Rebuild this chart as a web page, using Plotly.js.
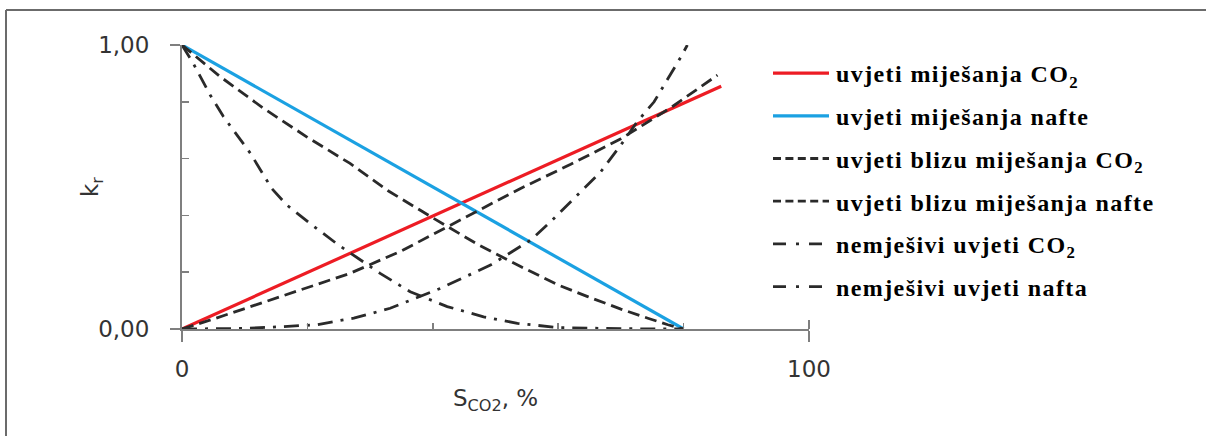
<!DOCTYPE html>
<html>
<head>
<meta charset="utf-8">
<script src="https://cdn.plot.ly/plotly-3.0.1.min.js"></script>
<style>
html,body{margin:0;padding:0;background:#fff;}
#chart{width:1206px;height:436px;}
.legendtext{letter-spacing:1.4px;}
</style>
</head>
<body>
<div id="chart"></div>
<script>
// ---- data ----
const seriesNames = [
  'uvjeti miješanja CO<sub>2</sub>',
  'uvjeti miješanja nafte',
  'uvjeti blizu miješanja CO<sub>2</sub>',
  'uvjeti blizu miješanja nafte',
  'nemješivi uvjeti CO<sub>2</sub>',
  'nemješivi uvjeti nafta'
];

const xMisCO2 = [0, 86];
const yMisCO2 = [0, 0.855];

const xMisOil = [0, 80];
const yMisOil = [1, 0];

const xNearCO2 = [0, 5, 13, 20, 26.8, 35, 42.3, 50, 54, 62, 70, 78, 85.4];
const yNearCO2 = [0, 0.035, 0.094, 0.145, 0.196, 0.275, 0.36, 0.45, 0.495, 0.58, 0.67, 0.78, 0.894];

const xNearOil = [0, 6, 13, 20, 26.8, 33, 40.1, 47, 54, 60, 64.7, 70, 74.3, 77.5, 80];
const yNearOil = [1, 0.89, 0.777, 0.675, 0.583, 0.485, 0.39, 0.3, 0.22, 0.155, 0.114, 0.07, 0.038, 0.015, 0];

const xImmCO2 = [0, 10, 15.7, 21.5, 25.2, 27.4, 33.2, 41.2, 49.2, 55.6, 58.8, 63.1, 66.8, 70, 72.6, 75.3, 77.4, 79.6, 80.6];
const yImmCO2 = [0, 0.002, 0.008, 0.015, 0.03, 0.038, 0.073, 0.143, 0.225, 0.313, 0.378, 0.472, 0.554, 0.648, 0.73, 0.8, 0.877, 0.959, 1.0];

const xImmOil = [0, 1.8, 4.5, 6.6, 10.9, 14.3, 16.7, 20.4, 24.7, 31.6, 36.4, 42.3, 48.1, 53.5, 60, 70, 80];
const yImmOil = [1, 0.935, 0.824, 0.748, 0.619, 0.495, 0.437, 0.372, 0.30, 0.196, 0.131, 0.079, 0.043, 0.02, 0.005, 0.001, 0];

const xTickVals = [0, 100];
const xTickText = ['0', '100'];
const xMinorTicks = [20, 40, 60, 80];
const yTickVals = [0, 1];
const yTickText = ['0,00', '1,00'];
const yMinorTicks = [0.2, 0.4, 0.6, 0.8];

const xTitle = 'S<sub>CO2</sub>, %';
const yTitle = 'k<sub>r</sub>';

// ---- styling ----
const RED = '#ed1c24';
const BLUE = '#1ba1e2';
const DARK = '#2a2a2a';
const AXIS = '#7f7f7f';
const dashed = '12px,6px';
const dashdot = '15px,8px,3px,8px';
const legendDash = ['', '', '8px,4.4px', '8px,4.4px', '13px,10px,3px,10px', '13px,10px,3px,10px'];
const TICKFONT = {family: 'DejaVu Sans', size: 23, color: '#333'};

function tr(x, y, name, color, width, dash, g) {
  return {
    x: x, y: y, name: name, type: 'scatter', mode: 'lines',
    line: {color: color, width: width, dash: dash},
    legendgroup: g, hoverinfo: 'skip'
  };
}

const data = [
  tr(xMisCO2, yMisCO2, seriesNames[0], RED, 3.2, 'solid', 'g1'),
  tr(xMisOil, yMisOil, seriesNames[1], BLUE, 3.2, 'solid', 'g2'),
  tr(xNearCO2, yNearCO2, seriesNames[2], DARK, 2.8, dashed, 'g3'),
  tr(xNearOil, yNearOil, seriesNames[3], DARK, 2.8, dashed, 'g4'),
  tr(xImmCO2, yImmCO2, seriesNames[4], DARK, 2.8, dashdot, 'g5'),
  tr(xImmOil, yImmOil, seriesNames[5], DARK, 2.8, dashdot, 'g6')
];

const W = 627, H = 284; // plot area size in px
const px = v => v / W, py = v => v / H;

const lineShape = (x0, y0, x1, y1, color, w) => ({
  type: 'line', xref: 'paper', yref: 'paper', x0: x0, y0: y0, x1: x1, y1: y1,
  line: {color: color, width: w}, layer: 'above'
});

const layout = {
  width: 1206, height: 436,
  margin: {l: 182, r: 397, t: 45, b: 107},
  paper_bgcolor: '#ffffff', plot_bgcolor: '#ffffff',
  showlegend: true,
  legend: {
    x: px(586), y: py(278), xanchor: 'left', yanchor: 'top',
    bgcolor: 'rgba(0,0,0,0)',
    traceorder: 'grouped', tracegroupgap: 8.5,
    font: {family: 'Liberation Serif', size: 24, color: '#000', weight: 'bold'},
    itemwidth: 58
  },
  xaxis: {
    range: [0, 100], fixedrange: true,
    showgrid: false, zeroline: false,
    showline: true, linecolor: AXIS, linewidth: 2,
    ticks: 'outside', ticklen: 11, tickwidth: 2, tickcolor: AXIS,
    tickmode: 'array', tickvals: xTickVals, ticktext: xTickText,
    minor: {tickmode: 'array', tickvals: xMinorTicks, ticks: 'inside', ticklen: 6, tickwidth: 1.5, tickcolor: AXIS},
    ticklabelstandoff: 7,
    tickfont: TICKFONT,
    title: {text: xTitle, standoff: 9, font: TICKFONT}
  },
  yaxis: {
    range: [0, 1], fixedrange: true,
    showgrid: false, zeroline: false,
    showline: true, linecolor: AXIS, linewidth: 2,
    ticks: 'outside', ticklen: 10, tickwidth: 1.5, tickcolor: AXIS,
    tickmode: 'array', tickvals: yTickVals, ticktext: yTickText,
    minor: {tickmode: 'array', tickvals: yMinorTicks, ticks: 'inside', ticklen: 7, tickwidth: 1.5, tickcolor: AXIS},
    ticklabelstandoff: 16,
    tickfont: TICKFONT
  },
  annotations: [{
    text: yTitle, xref: 'paper', yref: 'paper', x: px(-90), y: 0.5,
    xanchor: 'center', yanchor: 'middle', textangle: -90, showarrow: false,
    font: TICKFONT
  }],
  shapes: [
    // outer frame (top and left edges visible)
    lineShape(px(-176), py(319), px(1100), py(319), '#6b6b6b', 2),
    lineShape(px(-176), py(-140), px(-176), py(319), '#6b6b6b', 2),
    // upper half of the tick at 100
    lineShape(1, 0, 1, py(9), AXIS, 2)
  ]
};

Plotly.newPlot('chart', data, layout, {displayModeBar: false, staticPlot: true}).then(function (gd) {
  // longer legend samples, as in the reference
  gd.querySelectorAll('.legend .legendlines path').forEach(function (p, i) {
    p.setAttribute('d', 'M5,0h56');
    if (legendDash[i]) p.style.strokeDasharray = legendDash[i];
  });
});
</script>
</body>
</html>
